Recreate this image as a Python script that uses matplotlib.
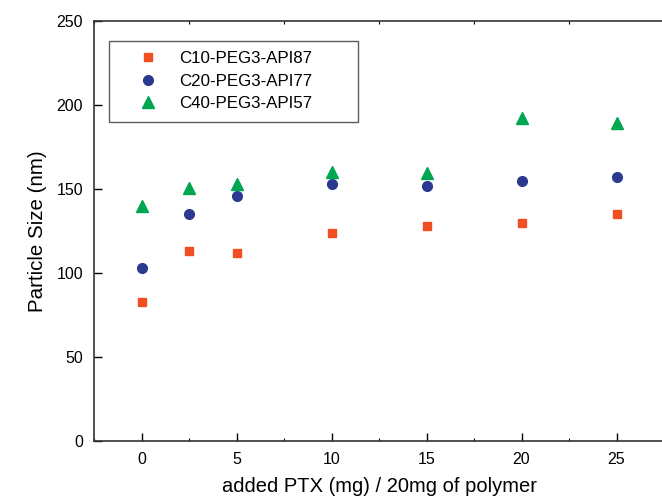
import matplotlib
matplotlib.use("Agg")
import matplotlib.pyplot as plt
from matplotlib.ticker import MultipleLocator

plt.rcParams['font.family'] = ['Liberation Sans', 'DejaVu Sans']

# data
ptx = [0, 2.5, 5, 10, 15, 20, 25]
c10 = [83, 113, 112, 124, 128, 130, 135]
c20 = [103, 135, 146, 153, 152, 155, 157]
c40 = [140, 150.5, 153, 160, 159.5, 192, 189]

fig = plt.figure(figsize=(6.62, 5.01), dpi=100)
W, H = 662, 501
# right end of the axis sits past the image edge (cropped original)
x0, x1 = 94, 94 + 30 * 19
ax = fig.add_axes([x0 / W, (H - 441) / H, (x1 - x0) / W, 420 / H])

ax.plot(ptx, c10, 's', color='#F04E23', ms=6, label='C10-PEG3-API87', clip_on=False)
ax.plot(ptx, c20, 'o', color='#2B3990', ms=7, label='C20-PEG3-API77', clip_on=False)
ax.plot(ptx, c40, '^', color='#00A651', ms=8, label='C40-PEG3-API57', clip_on=False)

ax.set_xlim(-2.5, 27.5)
ax.set_ylim(0, 250)
ax.xaxis.set_major_locator(MultipleLocator(5))
ax.xaxis.set_minor_locator(MultipleLocator(2.5))
ax.yaxis.set_major_locator(MultipleLocator(50))
ax.tick_params(which='major', direction='in', length=6, width=1, labelsize=11.5, top=False, right=False)
ax.tick_params(which='minor', direction='in', length=2, width=0.8, top=True, bottom=True)
ax.tick_params(axis='x', pad=8)
ax.tick_params(axis='y', pad=8)
ax.spines['right'].set_visible(False)
for s in ['left', 'bottom', 'top']:
    ax.spines[s].set_color('#333333')
    ax.spines[s].set_linewidth(1.2)

ax.set_xlabel('added PTX (mg) / 20mg of polymer', fontsize=14.5, labelpad=7)
ax.set_ylabel('Particle Size (nm)', fontsize=14.8, labelpad=7)

aw = x1 - x0
leg = ax.legend(loc='upper left', mode='expand',
                bbox_to_anchor=((109 - x0) / aw, 1 - 20 / 420, (358 - 109) / aw, 0),
                fontsize=12.2, frameon=True, fancybox=False, edgecolor='#333333',
                handletextpad=0.15, borderpad=0.6, labelspacing=0.45, handlelength=3.4,
                borderaxespad=0)
leg.get_frame().set_linewidth(1.0)

fig.savefig('out.png', dpi=100)
